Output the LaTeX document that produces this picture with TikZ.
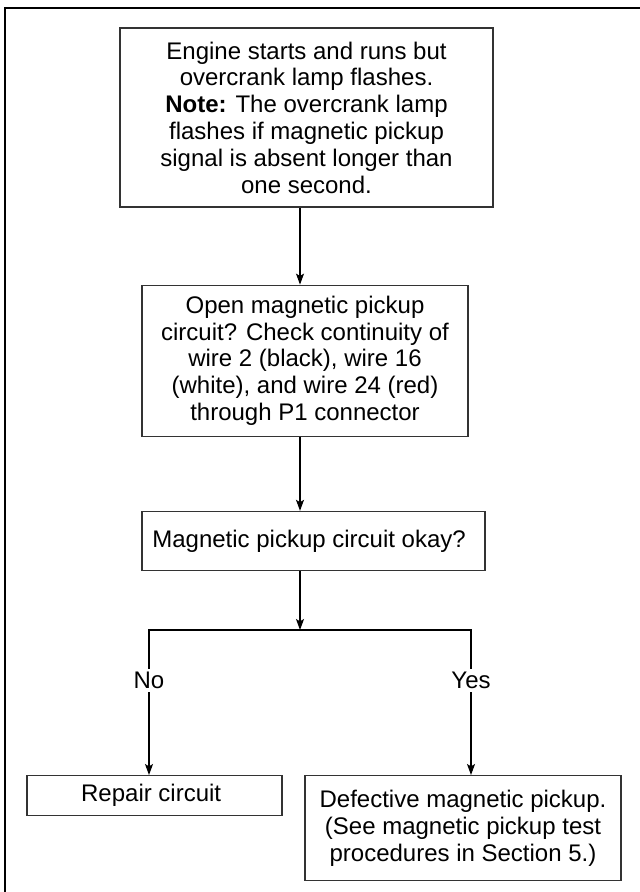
\documentclass[tikz,border=0pt]{standalone}
\usepackage{fontspec}
\setmainfont{Liberation Sans}
\usetikzlibrary{arrows.meta, positioning, calc}

\begin{document}
\begin{tikzpicture}[
    node distance=37pt,
    box/.style={
        rectangle,
        draw=black!80,
        line width=0.6pt,
        align=center,
        inner sep=0pt,
        font=\fontsize{12pt}{13.4pt}\selectfont
    },
    line/.style={
        draw,
        -{Stealth[length=5.5pt, width=4pt, inset=1.2pt]},
        line width=0.55pt
    },
    answer/.style={
        fill=white,
        inner sep=1.5pt,
        font=\fontsize{12pt}{13.4pt}\selectfont
    }
]
    % --- FRAME ---
    \useasboundingbox (0,0) rectangle (320pt,-446pt);
    \clip (0,0) rectangle (320pt,-446pt);
    \draw [line width=1pt] (2.5pt,-460pt) -- (2.5pt,-4pt) -- (340pt,-4pt);

    % --- NODES ---
    \node [box, minimum width=186.5pt, minimum height=89.5pt] (start) at (153.25pt,-58.75pt) {
        Engine starts and runs but\\
        overcrank lamp flashes.\\
        \textbf{Note:} The overcrank lamp\\
        flashes if magnetic pickup\\
        signal is absent longer than\\
        one second.
    };

    \node [box, minimum width=163pt, minimum height=75.5pt, below=38.5pt of start, xshift=-0.75pt] (check) {
        Open magnetic pickup\\
        circuit? Check continuity of\\
        wire 2 (black), wire 16\\
        (white), and wire 24 (red)\\
        through P1 connector
    };

    \node [box, minimum width=171.5pt, minimum height=29.5pt, below=of check, xshift=4.25pt] (okay) {
        Magnetic pickup circuit okay?
    };

    \coordinate (axis) at (150pt,0);
    \coordinate (split) at ($(okay.south -| axis)+(0,-29.5pt)$);
    \coordinate (noturn) at ($(split)+(-75.5pt,0)$);
    \coordinate (yesturn) at ($(split)+(85.5pt,0)$);

    \node [box, minimum width=127.5pt, minimum height=20pt, below=72.5pt of split, xshift=-72.75pt] (repair) {
        Repair circuit
    };

    \node [box, minimum width=158pt, minimum height=52.5pt, below=72.5pt of split, xshift=81.5pt] (defect) {
        Defective magnetic pickup.\\
        (See magnetic pickup test\\
        procedures in Section 5.)
    };

    % --- LINKS ---
    \path [line] (start.south -| axis) -- (check.north -| axis);
    \path [line] (check.south -| axis) -- (okay.north -| axis);
    \path [line] (okay.south -| axis) -- (split);
    \draw [line width=0.55pt, line cap=rect] (noturn) -- (yesturn);

    \path [line] (noturn) -- node[answer, pos=0.35] {No} (noturn |- repair.north);
    \path [line] (yesturn) -- node[answer, pos=0.35] {Yes} (yesturn |- defect.north);
\end{tikzpicture}
\end{document}
